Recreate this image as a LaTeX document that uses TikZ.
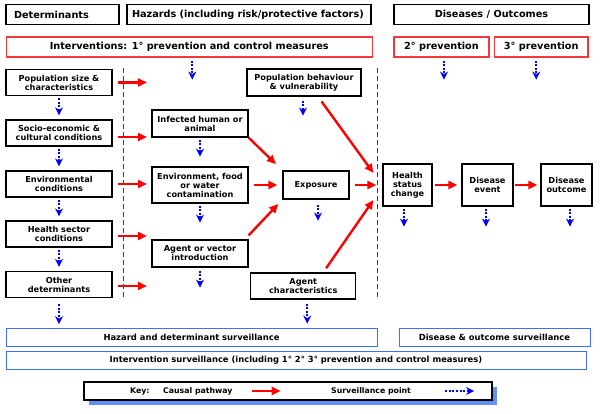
\documentclass[tikz,border=0pt]{standalone}
\usepackage{fontspec}
\setmainfont{DejaVu Sans}
\usetikzlibrary{arrows.meta,shadows}

\definecolor{causalred}{RGB}{255,0,0}
\definecolor{ivred}{RGB}{245,55,55}
\definecolor{survblue}{RGB}{0,0,255}
\definecolor{svblue}{RGB}{60,110,255}
\definecolor{shadeblue}{RGB}{95,145,250}

\tikzset{
  box/.style={draw=black, line width=1.2pt, fill=white, align=center, inner sep=1pt,
    font=\bfseries\fontsize{8.2}{9}\selectfont},
  headbox/.style={draw=black, line width=1.2pt, minimum height=20pt, inner sep=0pt,
    font=\bfseries\fontsize{9.7}{11}\selectfont},
  ivbox/.style={draw=ivred, line width=1.2pt, minimum height=20pt, inner sep=0pt,
    font=\bfseries\fontsize{9.7}{11}\selectfont},
  svbox/.style={draw=svblue, line width=1pt, minimum height=18pt, inner sep=0pt,
    font=\bfseries\fontsize{8.4}{10}\selectfont},
  keytext/.style={anchor=west, inner sep=0pt, font=\bfseries\fontsize{7.8}{9}\selectfont},
  causal/.style={causalred, line width=2.4pt, -{Triangle[length=9pt,width=8pt]}},
  survpt/.style={survblue, line width=2.3pt, dash pattern=on 2pt off 1.6pt,
    -{Stealth[length=8pt,width=8pt,inset=2.5pt]}},
  divider/.style={black!75, line width=0.8pt, dash pattern=on 5pt off 3pt}
}

\begin{document}
\begin{tikzpicture}[x=1pt, y=-1pt]
  \useasboundingbox (0,0) rectangle (600,414);

  % Headers
  \node[headbox, text width=97pt, inner xsep=8pt, align=left] (hdDet) at (62.5,14.5) {Determinants};
  \node[headbox, text width=234pt, inner xsep=5pt, align=left] (hdHaz) at (249,14.5) {Hazards (including risk/protective factors)};
  \node[headbox, minimum width=195pt] (hdDis) at (491.5,14.5) {Diseases / Outcomes};

  % Interventions
  \node[ivbox, minimum width=366pt] (ivPrim) at (189.25,47) {Interventions: 1° prevention and control measures};
  \node[ivbox, minimum width=95pt] (ivSec) at (441.5,47) {2° prevention};
  \node[ivbox, minimum width=93.5pt] (ivTer) at (541.25,47) {3° prevention};

  % Dividers
  \draw[divider] (123,68) -- (123,300);
  \draw[divider] (377,68) -- (377,300);

  % Determinants
  \node[box, minimum width=106pt, minimum height=26pt] (popSize) at (59,82.5) {Population size \&\\characteristics};
  \node[box, minimum width=106pt, minimum height=26pt] (socEco) at (59,133) {Socio-economic \&\\cultural conditions};
  \node[box, minimum width=106pt, minimum height=26pt] (envCond) at (59,184) {Environmental\\conditions};
  \node[box, minimum width=106pt, minimum height=26pt] (hlthSec) at (59,234) {Health sector\\conditions};
  \node[box, minimum width=106pt, minimum height=26pt] (othDet) at (59,284.5) {Other\\determinants};

  % Hazards
  \node[box, minimum width=96pt, minimum height=27pt] (infHum) at (200,123.5) {Infected human or\\animal};
  \node[box, minimum width=96pt, minimum height=36pt] (envCont) at (200,185) {Environment, food\\or water\\contamination};
  \node[box, minimum width=96pt, minimum height=27pt] (agVec) at (200,253.5) {Agent or vector\\introduction};
  \node[box, minimum width=114pt, minimum height=27pt] (popBeh) at (304,82.5) {Population behaviour\\\& vulnerability};
  \node[box, minimum width=66pt, minimum height=28pt] (expo) at (316,185) {Exposure};
  \node[box, minimum width=105pt, minimum height=26pt] (agChar) at (303.25,286) {Agent\\characteristics};

  % Outcomes
  \node[box, minimum width=49pt, minimum height=42pt] (hsChange) at (407.5,185) {Health\\status\\change};
  \node[box, minimum width=51pt, minimum height=42pt] (disEvt) at (487.5,185) {Disease\\event};
  \node[box, minimum width=51pt, minimum height=42pt] (disOut) at (566.5,185) {Disease\\outcome};

  % Causal pathway
  \coordinate (hazIn) at (147,0);
  \draw[causal] ([xshift=5pt]popSize.east) -- (popSize.east -| hazIn);
  \draw[causal] ([xshift=5pt,yshift=-4pt]socEco.east) -- ([yshift=-4pt]socEco.east -| hazIn);
  \draw[causal] ([xshift=5pt]envCond.east) -- (envCond.east -| hazIn);
  \draw[causal] ([xshift=5pt,yshift=-2pt]hlthSec.east) -- ([yshift=-2pt]hlthSec.east -| hazIn);
  \draw[causal] ([xshift=5pt,yshift=-1.5pt]othDet.east) -- ([yshift=-1.5pt]othDet.east -| hazIn);
  \draw[causal, shorten >=9pt] (infHum.south east) -- (expo.north west);
  \draw[causal, shorten <=5pt, shorten >=5pt] (envCont.east) -- (expo.west);
  \draw[causal, shorten >=6pt] ([yshift=4pt]agVec.north east) -- (expo.south west);
  \draw[causal, shorten <=6pt] ([xshift=14pt]popBeh.south) -- ([shift={(-9,-12)}]hsChange.west);
  \draw[causal, shorten <=5pt, shorten >=6pt] (expo.east) -- (hsChange.west);
  \draw[causal, shorten <=5pt] ([xshift=20pt]agChar.north) -- ([shift={(-9,15)}]hsChange.west);
  \draw[causal, shorten <=2pt, shorten >=4pt] (hsChange.east) -- (disEvt.west);
  \draw[causal, shorten <=1pt, shorten >=3pt] (disEvt.east) -- (disOut.west);

  % Surveillance points
  \draw[survpt] ([xshift=3pt,yshift=-3pt]ivPrim.south) -- ++(0,19);
  \draw[survpt] ([xshift=2.5pt,yshift=-3pt]ivSec.south) -- ++(0,19);
  \draw[survpt] ([xshift=-5pt,yshift=-3pt]ivTer.south) -- ++(0,19);
  \draw[survpt, shorten <=2pt, shorten >=4pt] (popSize.south) -- (socEco.north);
  \draw[survpt, shorten <=2pt, shorten >=4pt] (socEco.south) -- (envCond.north);
  \draw[survpt, shorten <=2pt, shorten >=4pt] (envCond.south) -- (hlthSec.north);
  \draw[survpt, shorten <=2pt, shorten >=4pt] (hlthSec.south) -- (othDet.north);
  \draw[survpt] ([yshift=-6pt]othDet.south) -- ++(0,20);
  \draw[survpt] ([yshift=-2pt]infHum.south) -- ++(0,17);
  \draw[survpt] ([yshift=-2pt]envCont.south) -- ++(0,17);
  \draw[survpt] ([yshift=-3pt]agVec.south) -- ++(0,17);
  \draw[survpt] ([xshift=-1pt,yshift=-4pt]popBeh.south) -- ++(0,15);
  \draw[survpt] ([xshift=2pt,yshift=-5pt]expo.south) -- ++(0,16);
  \draw[survpt] ([xshift=4pt,yshift=-4pt]agChar.south) -- ++(0,20);
  \draw[survpt] ([xshift=-3.5pt,yshift=-2pt]hsChange.south) -- ++(0,18);
  \draw[survpt] ([xshift=-1.5pt,yshift=-2pt]disEvt.south) -- ++(0,18);
  \draw[survpt] ([xshift=3.5pt,yshift=-2pt]disOut.south) -- ++(0,18);

  % Surveillance
  \node[svbox, minimum width=371pt] (svHaz) at (191.5,337) {Hazard and determinant surveillance};
  \node[svbox, minimum width=191pt] (svDis) at (494.5,337) {Disease \& outcome surveillance};
  \node[svbox, minimum width=580pt] (svInt) at (296,360.5) {Intervention surveillance (including 1° 2° 3° prevention and control measures)};

  % Key
  \node[draw=black, line width=1.2pt, fill=white, minimum width=408pt, minimum height=18pt,
    drop shadow={shadow xshift=5pt, shadow yshift=-5pt, fill=shadeblue, opacity=1}] (keyBox) at (288,391) {};
  \node[keytext] (keyLbl) at (130,391) {Key:};
  \node[keytext] (keyCausal) at (163,391) {Causal pathway};
  \node[keytext] (keySurv) at (331,391) {Surveillance point};
  \draw[causal] ([xshift=19pt]keyCausal.east) -- ++(29,0);
  \draw[survpt] ([xshift=34pt]keySurv.east) -- ++(29,0);
\end{tikzpicture}
\end{document}
